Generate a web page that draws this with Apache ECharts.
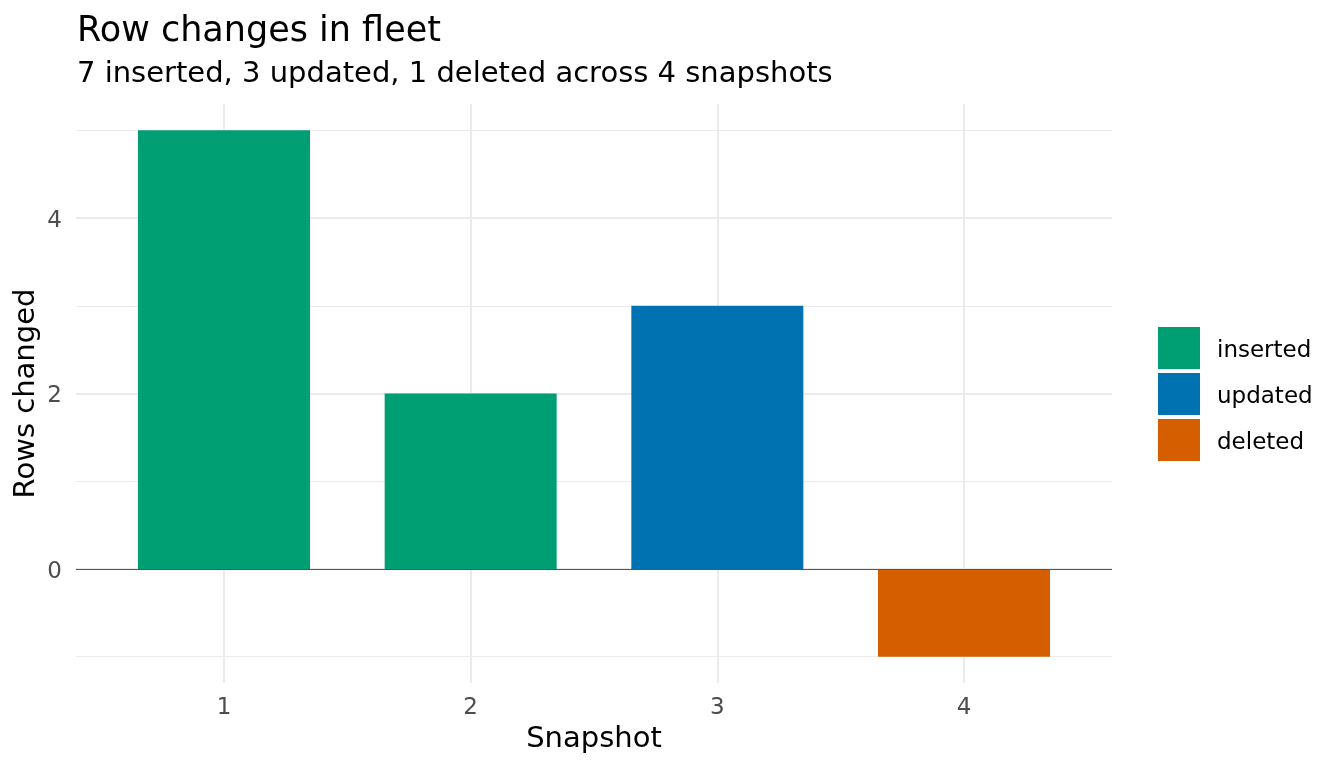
<!DOCTYPE html>
<html>
<head>
<meta charset="utf-8">
<script src="https://cdn.jsdelivr.net/npm/echarts@6/dist/echarts.min.js"></script>
<style>html,body{margin:0;padding:0;background:#fff}#chart{width:1344px;height:768px}</style>
</head>
<body>
<div id="chart"></div>
<script>
const snapshots = [1, 2, 3, 4];
const changeTypes = ['inserted', 'inserted', 'updated', 'deleted'];
const rowsChanged = [5, 2, 3, -1];
const legendOrder = ['inserted', 'updated', 'deleted'];
const typeColors = { inserted: '#009E73', updated: '#0072B2', deleted: '#D55E00' };
const yTickLabels = [0, 2, 4];
const yMinorGrid = [-1, 1, 3, 5];
const titleText = 'Row changes in fleet';
const subtitleText = '7 inserted, 3 updated, 1 deleted across 4 snapshots';

const FONT = 'DejaVu Sans';
const chart = echarts.init(document.getElementById('chart'));

const barSeries = legendOrder.map(t => ({
  name: t,
  type: 'bar',
  stack: 'all',
  barWidth: 172,
  z: 3,
  itemStyle: { color: typeColors[t] },
  data: snapshots.map((s, i) => changeTypes[i] === t ? [s, rowsChanged[i]] : null).filter(d => d)
}));

const gridSeries = {
  type: 'line',
  data: [],
  z: 1,
  silent: true,
  markLine: {
    z: 1,
    silent: true,
    symbol: ['none', 'none'],
    label: { show: false },
    animation: false,
    data: [
      ...yMinorGrid.map(v => ({ yAxis: v, lineStyle: { color: '#ebebeb', width: 1, type: 'solid' } })),
      ...yTickLabels.map(v => ({ yAxis: v, lineStyle: { color: '#ebebeb', width: 2, type: 'solid' } })),
      ...snapshots.map(v => ({ xAxis: v, lineStyle: { color: '#ebebeb', width: 2, type: 'solid' } }))
    ]
  }
};

const zeroSeries = {
  type: 'line',
  data: [],
  z: 6,
  silent: true,
  markLine: {
    z: 6,
    silent: true,
    symbol: ['none', 'none'],
    label: { show: false },
    animation: false,
    data: [{ yAxis: 0, lineStyle: { color: '#555555', width: 1.2, type: 'solid' } }]
  }
};

chart.setOption({
  animation: false,
  backgroundColor: '#ffffff',
  textStyle: { fontFamily: FONT },
  title: [
    { text: titleText, left: 77, top: 14, padding: 0,
      textStyle: { fontFamily: FONT, fontSize: 35, fontWeight: 'normal', color: '#000' } },
    { text: subtitleText, left: 77, top: 60, padding: 0,
      textStyle: { fontFamily: FONT, fontSize: 29, fontWeight: 'normal', color: '#000' } }
  ],
  legend: {
    data: legendOrder,
    orient: 'vertical',
    left: 1158,
    top: 327,
    padding: 0,
    icon: 'rect',
    itemWidth: 42,
    itemHeight: 42,
    itemGap: 4,
    formatter: '{t|{name}}',
    textStyle: {
      fontFamily: FONT, fontSize: 23, color: '#000',
      rich: { t: { fontFamily: FONT, fontSize: 23, color: '#000', padding: [6, 0, 0, 12] } }
    }
  },
  grid: { left: 76, right: 232, top: 104, bottom: 85, containLabel: false },
  xAxis: {
    type: 'value',
    min: 0.4,
    max: 4.6,
    name: 'Snapshot',
    nameLocation: 'middle',
    nameGap: 42,
    nameMoveOverlap: false,
    nameTextStyle: { fontFamily: FONT, fontSize: 29, color: '#000' },
    axisLine: { show: false },
    axisTick: { show: false },
    splitLine: { show: false },
    axisLabel: { customValues: snapshots, margin: 14, fontFamily: FONT, fontSize: 23, color: '#4d4d4d' }
  },
  yAxis: {
    type: 'value',
    min: -1.3,
    max: 5.3,
    name: 'Rows changed',
    nameLocation: 'middle',
    nameGap: 35,
    nameMoveOverlap: false,
    nameTextStyle: { fontFamily: FONT, fontSize: 29, color: '#000' },
    axisLine: { show: false },
    axisTick: { show: false },
    splitLine: { show: false },
    axisLabel: {
      customValues: yTickLabels, margin: 14, fontFamily: FONT, fontSize: 23, color: '#4d4d4d',
      formatter: '{v|{value}}',
      rich: { v: { fontFamily: FONT, fontSize: 23, color: '#4d4d4d', padding: [6, 0, 0, 0] } }
    }
  },
  series: [gridSeries, ...barSeries, zeroSeries]
});
</script>
</body>
</html>
